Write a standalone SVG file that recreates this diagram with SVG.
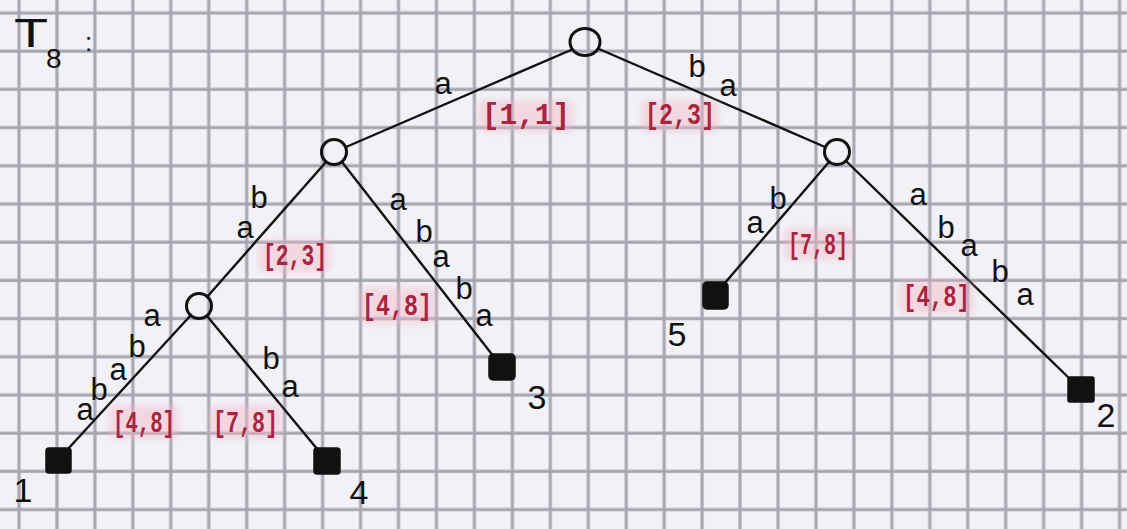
<svg xmlns="http://www.w3.org/2000/svg" width="1127" height="529" viewBox="0 0 1127 529">
<defs>
<pattern id="grid" patternUnits="userSpaceOnUse" x="0" y="0" width="37.95" height="38.2">
<rect width="37.95" height="38.2" fill="#f1f1f6"/>
<path d="M19 0V38.2M0 13H37.95" stroke="#b2b2bd" stroke-width="3.4" fill="none"/>
<path d="M19 0V38.2M0 13H37.95" stroke="#85858f" stroke-width="1" fill="none" opacity="0.45"/>
</pattern>
<filter id="glow" x="-20%" y="-30%" width="140%" height="160%">
<feGaussianBlur stdDeviation="3"/>
</filter>
</defs>
<style>
.edge{stroke:#111;stroke-width:2.4;fill:none;stroke-linecap:round}
.inner{fill:none;stroke:#111;stroke-width:3}
.leaf{fill:#111;stroke:#111;stroke-width:1.5}
.lbl{font-family:"Liberation Sans",Arial,sans-serif;font-size:31px;fill:#111;text-anchor:middle}
.num{font-family:"Liberation Sans",Arial,sans-serif;font-size:34px;fill:#111;text-anchor:middle}
.rng{font-family:"Liberation Mono","Courier New",monospace;font-size:29px;fill:#a8243f;font-weight:bold}
.halo{fill:#f4b8c6;opacity:0.45;filter:url(#glow)}
</style>
<rect width="1127" height="529" fill="url(#grid)"/>

<g id="title">
<text x="14" y="47" font-family="Liberation Sans, Arial, sans-serif" font-size="40" fill="#111" textLength="34" lengthAdjust="spacingAndGlyphs">T</text>
<text x="46" y="68" font-family="Liberation Sans, Arial, sans-serif" font-size="28" fill="#111">8</text>
<text x="85" y="51" font-family="Liberation Sans, Arial, sans-serif" font-size="26" fill="#111">:</text>
</g>

<g id="connectors">
<line class="edge" x1="571" y1="50" x2="346" y2="147"/>
<line class="edge" x1="599" y1="49" x2="825" y2="147"/>
<line class="edge" x1="326" y1="162" x2="207" y2="297"/>
<line class="edge" x1="342" y1="162" x2="494" y2="357"/>
<line class="edge" x1="191" y1="315" x2="67" y2="450"/>
<line class="edge" x1="207" y1="316" x2="318" y2="450"/>
<line class="edge" x1="829" y1="162" x2="724" y2="284"/>
<line class="edge" x1="846" y1="161" x2="1071" y2="380"/>
</g>

<g id="edge-labels">
<text class="lbl" x="443" y="94">a</text>
<text class="lbl" x="697" y="77">b</text>
<text class="lbl" x="728" y="96">a</text>

<text class="lbl" x="245" y="238">a</text>
<text class="lbl" x="259" y="208">b</text>

<text class="lbl" x="398" y="210">a</text>
<text class="lbl" x="424" y="242">b</text>
<text class="lbl" x="441" y="267">a</text>
<text class="lbl" x="464" y="299">b</text>
<text class="lbl" x="484" y="326">a</text>

<text class="lbl" x="85" y="420">a</text>
<text class="lbl" x="99" y="400">b</text>
<text class="lbl" x="118" y="380">a</text>
<text class="lbl" x="137" y="357">b</text>
<text class="lbl" x="152" y="326">a</text>

<text class="lbl" x="271" y="369">b</text>
<text class="lbl" x="290" y="397">a</text>

<text class="lbl" x="755" y="233">a</text>
<text class="lbl" x="778" y="209">b</text>

<text class="lbl" x="918" y="205">a</text>
<text class="lbl" x="946" y="238">b</text>
<text class="lbl" x="969" y="256">a</text>
<text class="lbl" x="1000" y="282">b</text>
<text class="lbl" x="1025" y="305">a</text>
</g>

<g id="ranges">
<rect class="halo" x="478" y="100" width="96" height="32" rx="6"/>
<rect class="halo" x="641" y="100" width="78" height="32" rx="6"/>
<rect class="halo" x="259" y="240" width="72" height="32" rx="6"/>
<rect class="halo" x="358" y="288" width="78" height="36" rx="6"/>
<rect class="halo" x="784" y="228" width="68" height="32" rx="6"/>
<rect class="halo" x="899" y="280" width="75" height="34" rx="6"/>
<rect class="halo" x="109" y="405" width="70" height="34" rx="6"/>
<rect class="halo" x="209" y="405" width="73" height="34" rx="6"/>
<text class="rng" x="482" y="124" textLength="88" lengthAdjust="spacingAndGlyphs">[1,1]</text>
<text class="rng" x="645" y="124" textLength="70" lengthAdjust="spacingAndGlyphs">[2,3]</text>
<text class="rng" x="263" y="265" textLength="64" lengthAdjust="spacingAndGlyphs">[2,3]</text>
<text class="rng" x="362" y="315" textLength="70" lengthAdjust="spacingAndGlyphs" style="font-size:30px">[4,8]</text>
<text class="rng" x="788" y="254" textLength="60" lengthAdjust="spacingAndGlyphs">[7,8]</text>
<text class="rng" x="903" y="306" textLength="67" lengthAdjust="spacingAndGlyphs">[4,8]</text>
<text class="rng" x="113" y="432" textLength="62" lengthAdjust="spacingAndGlyphs">[4,8]</text>
<text class="rng" x="213" y="432" textLength="65" lengthAdjust="spacingAndGlyphs">[7,8]</text>
</g>

<g id="root"><ellipse class="inner" cx="585" cy="42" rx="15" ry="13.5"/></g>
<g id="node-a"><circle class="inner" cx="334" cy="152" r="12.5"/></g>
<g id="node-ba"><circle class="inner" cx="837" cy="152" r="12.5"/></g>
<g id="node-aba"><circle class="inner" cx="199" cy="306" r="12.5"/></g>

<g id="leaf-1"><rect class="leaf" x="46" y="448" width="25" height="25" rx="3"/><text class="num" x="23" y="502">1</text></g>
<g id="leaf-4"><rect class="leaf" x="314" y="448" width="26" height="26" rx="3"/><text class="num" x="359" y="504">4</text></g>
<g id="leaf-3"><rect class="leaf" x="489" y="354" width="26" height="26" rx="4"/><text class="num" x="537" y="409">3</text></g>
<g id="leaf-5"><rect class="leaf" x="703" y="282" width="25" height="27" rx="4"/><text class="num" x="677" y="346">5</text></g>
<g id="leaf-2"><rect class="leaf" x="1068" y="377" width="26" height="25" rx="2"/><text class="num" x="1106" y="427">2</text></g>
</svg>
